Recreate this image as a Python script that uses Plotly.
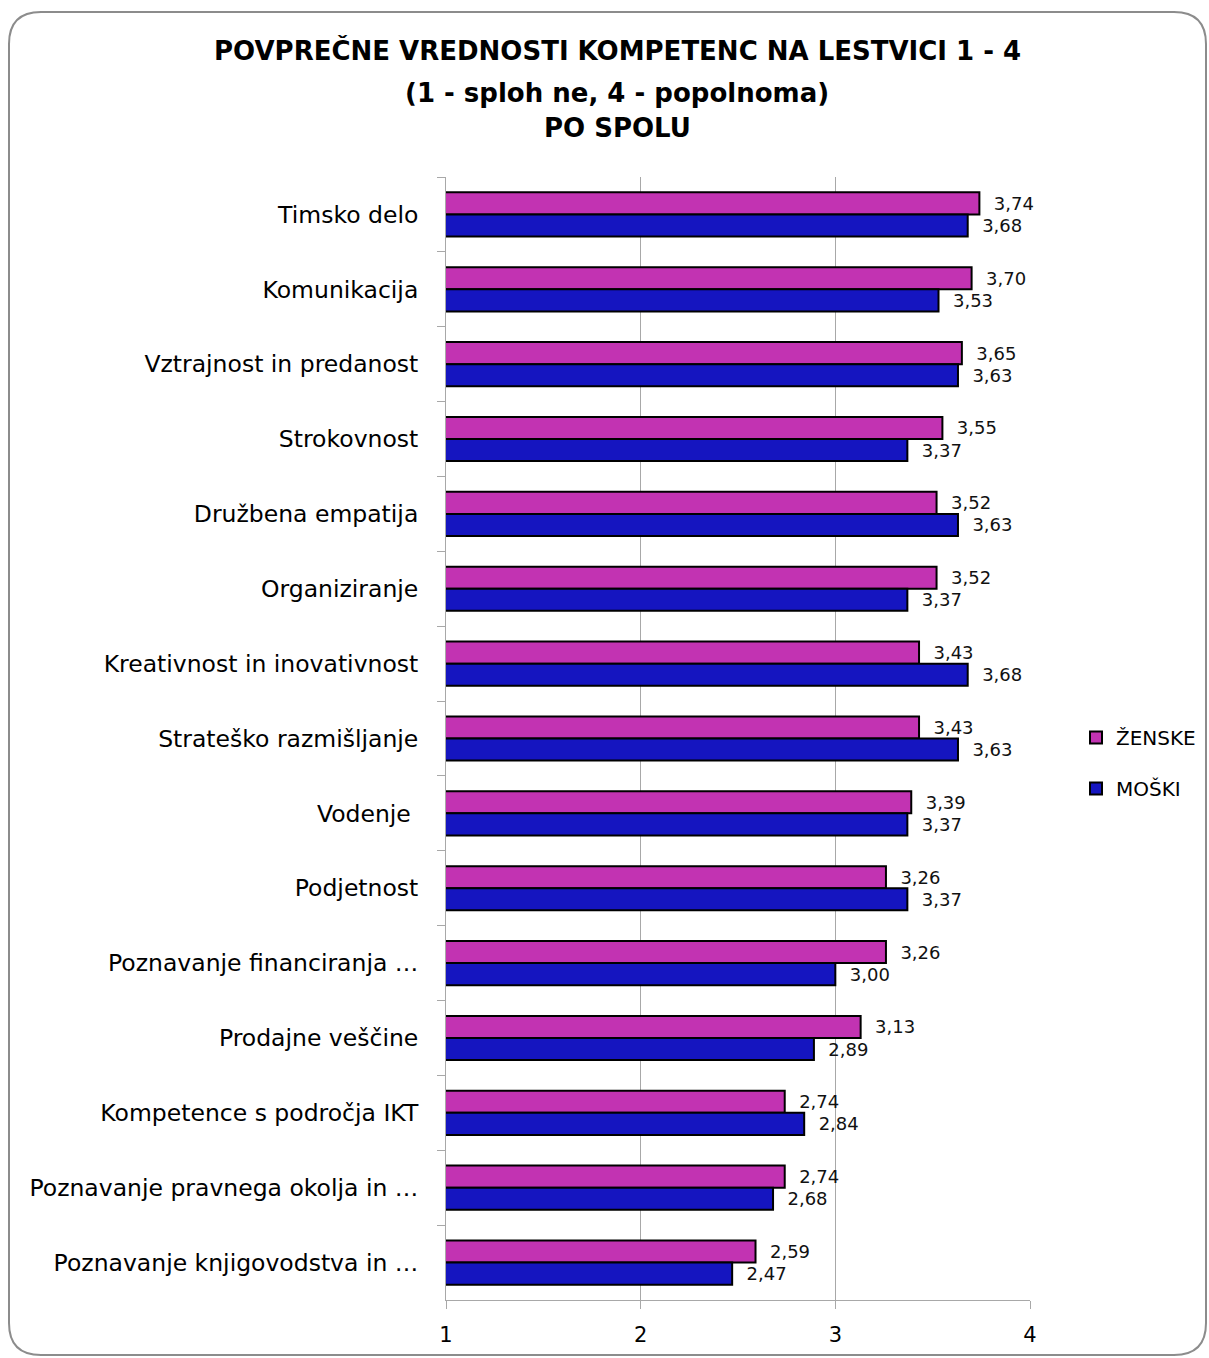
import plotly.graph_objects as go

categories = ["Timsko delo", "Komunikacija", "Vztrajnost in predanost", "Strokovnost",
              "Družbena empatija", "Organiziranje", "Kreativnost in inovativnost",
              "Strateško razmišljanje", "Vodenje ", "Podjetnost",
              "Poznavanje financiranja …", "Prodajne veščine",
              "Kompetence s področja IKT", "Poznavanje pravnega okolja in …",
              "Poznavanje knjigovodstva in …"]
zenske = [3.74, 3.70, 3.65, 3.55, 3.52, 3.52, 3.43, 3.43, 3.39, 3.26, 3.26, 3.13, 2.74, 2.74, 2.59]
moski = [3.68, 3.53, 3.63, 3.37, 3.63, 3.37, 3.68, 3.63, 3.37, 3.37, 3.00, 2.89, 2.84, 2.68, 2.47]
series_names = ["ŽENSKE", "MOŠKI"]
x_ticks = [1, 2, 3, 4]
title_lines = ["POVPREČNE VREDNOSTI KOMPETENC NA LESTVICI 1 - 4",
               "(1 - sploh ne, 4 - popolnoma)", "PO SPOLU"]

W, H = 1209, 1358
L, R, T, B = 446, 1030, 177, 1300
FONT = "DejaVu Sans"

def px(x):
    return (x - L) / (R - L)

def py(y):
    return (B - y) / (B - T)

def fmt(v):
    return "\u00a0\u00a0" + f"{v:.2f}".replace(".", ",")

fig = go.Figure()
colors = ["#C233B2", "#1515C0"]
for i, (name, vals) in enumerate(zip(series_names, [zenske, moski])):
    fig.add_trace(go.Bar(
        y=categories, x=vals, name=name, orientation="h", base=0,
        marker=dict(color=colors[i], line=dict(color="#000000", width=2)),
        text=[fmt(v) for v in vals], textposition="outside",
        textfont=dict(family=FONT, size=18, color="#111111"),
        constraintext="none", cliponaxis=False, legendgroup=name,
    ))

# rounded frame
x0, y0, x1, y1, r = 9, 12, 1206, 1355, 32
path = (f"M {px(x0+r)},{py(y0)} L {px(x1-r)},{py(y0)} "
        f"Q {px(x1)},{py(y0)} {px(x1)},{py(y0+r)} "
        f"L {px(x1)},{py(y1-r)} Q {px(x1)},{py(y1)} {px(x1-r)},{py(y1)} "
        f"L {px(x0+r)},{py(y1)} Q {px(x0)},{py(y1)} {px(x0)},{py(y1-r)} "
        f"L {px(x0)},{py(y0+r)} Q {px(x0)},{py(y0)} {px(x0+r)},{py(y0)} Z")
fig.add_shape(type="path", xref="paper", yref="paper", path=path,
              line=dict(color="#8C8C8C", width=2), fillcolor="rgba(0,0,0,0)", layer="below")

ys = [50, 93, 128]
for line, yy in zip(title_lines, ys):
    fig.add_annotation(text=f"<b>{line}</b>", xref="paper", yref="paper",
                       x=px(617), y=py(yy), xanchor="center", yanchor="middle",
                       showarrow=False, font=dict(family=FONT, size=26, color="#000000"))

fig.update_layout(
    width=W, height=H,
    margin=dict(l=L, r=W - R, t=T, b=H - B, autoexpand=False),
    barmode="group", bargap=0.41, bargroupgap=0,
    plot_bgcolor="white", paper_bgcolor="white",
    font=dict(family=FONT, color="#000000"),
    legend=dict(x=px(1076), y=py(763), xanchor="left", yanchor="middle",
                font=dict(family=FONT, size=20), tracegroupgap=22,
                traceorder="grouped", itemwidth=30, bgcolor="rgba(0,0,0,0)"),
    showlegend=True,
)
fig.update_xaxes(range=[1, 4], tickvals=x_ticks, ticktext=[str(t) for t in x_ticks],
                 showgrid=True, gridcolor="#A8A8A8", gridwidth=1,
                 showline=True, linecolor="#A8A8A8", linewidth=1,
                 ticks="outside", ticklen=8, tickcolor="#A8A8A8",
                 ticklabelstandoff=8,
                 tickfont=dict(family=FONT, size=21), zeroline=False, mirror=False)
fig.update_yaxes(autorange="reversed", type="category", showline=True,
                 linecolor="#A8A8A8", linewidth=1, ticks="outside", ticklen=8,
                 tickcolor="#A8A8A8", tickson="boundaries", showgrid=False,
                 ticklabelstandoff=22,
                 tickfont=dict(family=FONT, size=23.5))

fig.write_html("out.html", config={"displayModeBar": False},
               post_script="document.body.style.margin='0';document.body.style.overflow='hidden';")
